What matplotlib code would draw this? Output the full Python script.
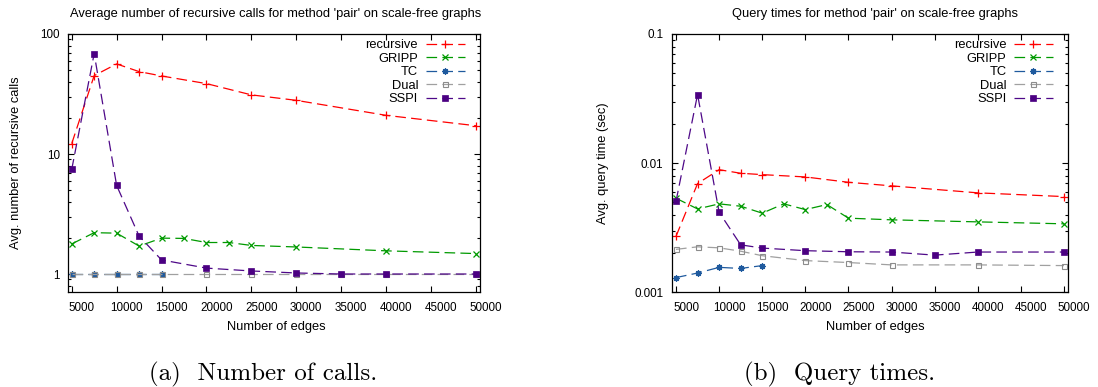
import matplotlib
matplotlib.use("Agg")
import matplotlib.pyplot as plt
import matplotlib.transforms as mtransforms
from matplotlib.ticker import FixedLocator, FuncFormatter, LogLocator, NullFormatter

plt.rcParams['font.family'] = ['Liberation Sans', 'DejaVu Sans']

# ---------------- data ----------------
# (a) average number of recursive calls
calls_rec_x = [5000, 7500, 10000, 12500, 15000, 20000, 25000, 30000, 40000, 50000]
calls_rec_y = [12.2, 45.0, 56.3, 48.6, 44.7, 38.6, 31.1, 28.0, 21.0, 17.2]
calls_gripp_x = [5000, 7500, 10000, 12500, 15000, 17500, 20000, 22500, 25000, 30000, 40000, 50000]
calls_gripp_y = [1.78, 2.21, 2.19, 1.71, 1.99, 1.98, 1.83, 1.83, 1.73, 1.68, 1.56, 1.48]
calls_tc_x = [5000, 7500, 10000, 12500, 15000]
calls_tc_y = [1.0, 1.0, 1.0, 1.0, 1.0]
calls_dual_x = [5000, 7500, 10000, 12500, 15000, 20000, 25000, 30000, 35000, 40000, 50000]
calls_dual_y = [1.0, 1.0, 1.0, 1.0, 1.0, 1.0, 1.0, 1.0, 1.0, 1.0, 1.0]
calls_sspi_x = [5000, 7500, 10000, 12500, 15000, 20000, 25000, 30000, 35000, 40000, 50000]
calls_sspi_y = [7.43, 68.6, 5.47, 2.07, 1.31, 1.12, 1.06, 1.02, 1.0, 1.0, 1.0]

# (b) query times (sec)
time_rec_x = [5000, 7500, 10000, 12500, 15000, 20000, 25000, 30000, 40000, 50000]
time_rec_y = [0.00271, 0.00695, 0.0089, 0.00835, 0.00815, 0.00782, 0.00711, 0.00667, 0.00589, 0.00551]
time_gripp_x = [5000, 7500, 10000, 12500, 15000, 17500, 20000, 22500, 25000, 30000, 40000, 50000]
time_gripp_y = [0.00535, 0.00442, 0.00484, 0.00464, 0.0041, 0.00484, 0.00437, 0.00478, 0.00375, 0.00364, 0.00351, 0.00339]
time_tc_x = [5000, 7500, 10000, 12500, 15000]
time_tc_y = [0.0013, 0.00141, 0.00156, 0.00153, 0.00161]
time_dual_x = [5000, 7500, 10000, 12500, 15000, 20000, 25000, 30000, 40000, 50000]
time_dual_y = [0.00215, 0.00225, 0.00221, 0.00208, 0.00192, 0.00176, 0.0017, 0.00163, 0.00163, 0.00161]
time_sspi_x = [5000, 7500, 10000, 12500, 15000, 20000, 25000, 30000, 35000, 40000, 50000]
time_sspi_y = [0.00507, 0.034, 0.00417, 0.00233, 0.0022, 0.0021, 0.00206, 0.00205, 0.00194, 0.00205, 0.00205]

series_names = ['recursive', 'GRIPP', 'TC', 'Dual', 'SSPI']
x_ticks = [5000, 10000, 15000, 20000, 25000, 30000, 35000, 40000, 45000, 50000]

# ---------------- styles ----------------
styles = {
    'recursive': dict(color='#ff0000', marker='+', ms=5.5, mew=0.9, mfc='none'),
    'GRIPP': dict(color='#009a00', marker='x', ms=4.2, mew=0.9, mfc='none'),
    'TC': dict(color='#1f5a9e', marker=(8, 2, 0), ms=4.5, mew=0.9, mfc='none'),
    'Dual': dict(color='#a0a0a0', marker='s', ms=3.6, mew=0.8, mfc='none', mec='#8c8c8c'),
    'SSPI': dict(color='#4e0888', marker='s', ms=4.6, mew=0.5, mfc='#4b0082', mec='#4b0082'),
}
DASH = (8.5, 4.2)

W, H = 1098, 387
fig = plt.figure(figsize=(W / 100, H / 100), dpi=100)

def px_axes(l, t, r, b):
    return fig.add_axes([l / W, 1 - b / H, (r - l) / W, (b - t) / H])

ax1 = px_axes(68.3, 34, 480, 292.3)
ax2 = px_axes(671.7, 34, 1067.7, 292.3)

TFS = 8.4   # tick labels
LFS = 9.3   # titles, axis labels, legend

def setup(ax, data, xlim, ylim, yticks):
    for name, (xs, ys) in zip(series_names, data):
        st = styles[name]
        ax.plot(xs, ys, linestyle=(0, DASH), lw=0.9, label=name, **st)
    ax.set_yscale('log')
    ax.set_xlim(*xlim)
    ax.set_ylim(*ylim)
    ax.xaxis.set_major_locator(FixedLocator(x_ticks))
    ax.xaxis.set_major_formatter(FuncFormatter(lambda v, p: '%d' % v))
    ax.yaxis.set_major_locator(FixedLocator(yticks))
    ax.yaxis.set_major_formatter(FuncFormatter(lambda v, p: '%g' % v))
    ax.yaxis.set_minor_locator(LogLocator(base=10, subs=range(2, 10)))
    ax.yaxis.set_minor_formatter(NullFormatter())
    ax.tick_params(which='both', direction='in', top=True, right=True, labelsize=TFS, width=0.8)
    ax.tick_params(which='major', length=4.0)
    ax.tick_params(which='minor', length=2.2)
    ax.tick_params(axis='y', pad=6)
    ax.tick_params(axis='x', pad=7)
    for sp in ax.spines.values():
        sp.set_linewidth(0.9)
    # gnuplot-like horizontal offset of x tick labels
    off = mtransforms.ScaledTranslation(10 / 100, 0, fig.dpi_scale_trans)
    for lab in ax.get_xticklabels():
        lab.set_transform(lab.get_transform() + off)
    leg = ax.legend(loc='upper right', bbox_to_anchor=(1 - 15 / 400, 1 - 5 / 258.3),
                    frameon=False, markerfirst=False, fontsize=LFS,
                    handlelength=3.0, handletextpad=0.6, labelspacing=0.12,
                    borderpad=0, borderaxespad=0)
    return leg

setup(ax1,
      [(calls_rec_x, calls_rec_y), (calls_gripp_x, calls_gripp_y), (calls_tc_x, calls_tc_y),
       (calls_dual_x, calls_dual_y), (calls_sspi_x, calls_sspi_y)],
      (4620, 50450), (0.704, 100), [1, 10, 100])
setup(ax2,
      [(time_rec_x, time_rec_y), (time_gripp_x, time_gripp_y), (time_tc_x, time_tc_y),
       (time_dual_x, time_dual_y), (time_sspi_x, time_sspi_y)],
      (4500, 50430), (0.001, 0.1), [0.001, 0.01, 0.1])

def ftext(x, y, s, **kw):
    fig.text(x / W, 1 - y / H, s, ha='center', va='center', **kw)

ftext(276, 14, "Average number of recursive calls for method 'pair' on scale-free graphs", fontsize=LFS)
ftext(875, 14, "Query times for method 'pair' on scale-free graphs", fontsize=LFS)
ftext(276, 327, "Number of edges", fontsize=LFS)
ftext(875, 327, "Number of edges", fontsize=LFS)
ftext(16, 163, "Avg. number of recursive calls", fontsize=LFS, rotation=90)
ftext(603, 163, "Avg. query time (sec)", fontsize=LFS, rotation=90)
ftext(263, 374, "(a)  Number of calls.", fontsize=18, family=['cmr10', 'DejaVu Serif'])
ftext(840, 374, "(b)  Query times.", fontsize=18, family=['cmr10', 'DejaVu Serif'])

fig.savefig('out.png', dpi=100)
